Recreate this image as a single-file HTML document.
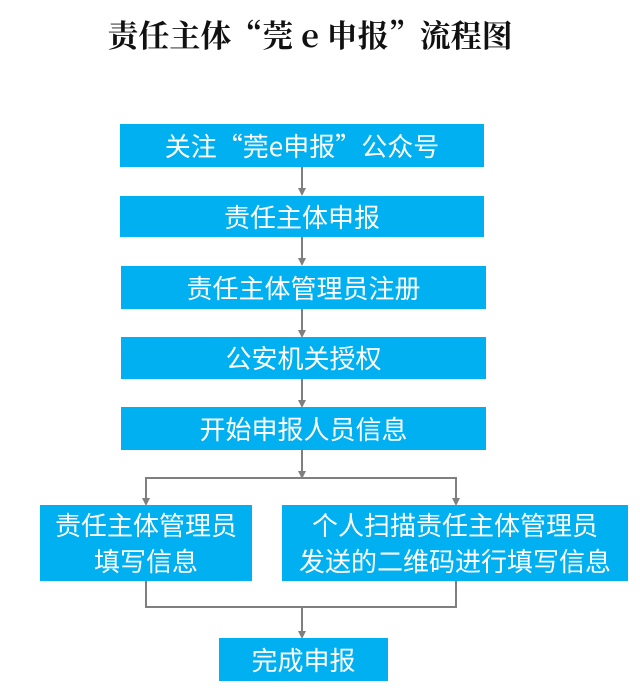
<!DOCTYPE html>
<html><head><meta charset="utf-8"><style>
body{margin:0;width:640px;height:697px;background:#fff;position:relative;overflow:hidden;font-family:"Noto Sans CJK SC",sans-serif}
.t{position:absolute;left:0;width:620px;top:13px;text-align:center;font:bold 31px "Noto Serif CJK SC",serif;color:#111;line-height:42px}
.b{position:absolute;background:#00b0f0;color:#fff;font-size:26px;display:flex;align-items:center;justify-content:center;text-align:center;line-height:36px;white-space:nowrap}
svg{position:absolute;left:0;top:0}
</style></head><body>
<div class="t">责任主体“莞 e 申报”流程图</div>
<svg width="640" height="697">
<defs><marker id="a" markerWidth="8" markerHeight="8" refX="4" refY="4" orient="auto" markerUnits="userSpaceOnUse"><path d="M0,0 L8,4 L0,8 z" fill="#7f7f7f"/></marker></defs>
<g stroke="#7f7f7f" stroke-width="2" fill="none">
<line x1="302" y1="167" x2="302" y2="192" marker-end="url(#a)"/>
<line x1="302" y1="237" x2="302" y2="262" marker-end="url(#a)"/>
<line x1="302" y1="309" x2="302" y2="334" marker-end="url(#a)"/>
<line x1="302" y1="379" x2="302" y2="404" marker-end="url(#a)"/>
<line x1="302" y1="450" x2="302" y2="475" marker-end="url(#a)"/>
<polyline points="146,502 146,478 456,478 456,502" marker-end="url(#a)"/>
<line x1="146" y1="490" x2="146" y2="502" marker-end="url(#a)"/>
<polyline points="146,581 146,607 456,607 456,581"/>
<line x1="302" y1="607" x2="302" y2="635" marker-end="url(#a)"/>
</g></svg>
<div class="b" style="left:120px;top:124px;width:364px;height:43px">关注“莞e申报”公众号</div>
<div class="b" style="left:120px;top:196px;width:364px;height:41px">责任主体申报</div>
<div class="b" style="left:121px;top:266px;width:365px;height:43px">责任主体管理员注册</div>
<div class="b" style="left:121px;top:337px;width:365px;height:42px">公安机关授权</div>
<div class="b" style="left:121px;top:407px;width:365px;height:43px">开始申报人员信息</div>
<div class="b" style="left:40px;top:505px;width:212px;height:76px">责任主体管理员<br>填写信息</div>
<div class="b" style="left:282px;top:505px;width:346px;height:76px">个人扫描责任主体管理员<br>发送的二维码进行填写信息</div>
<div class="b" style="left:219px;top:638px;width:169px;height:43px">完成申报</div>
</body></html>
